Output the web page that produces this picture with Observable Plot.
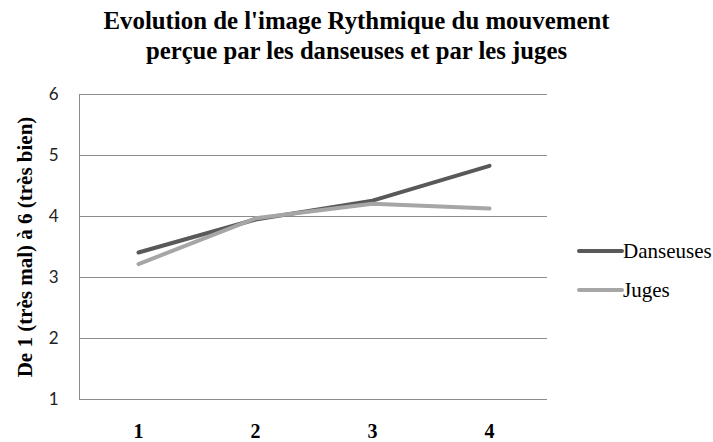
<!DOCTYPE html>
<html><head><meta charset="utf-8">
<script src="https://cdn.jsdelivr.net/npm/d3@7"></script>
<script src="https://cdn.jsdelivr.net/npm/@observablehq/plot@0.6"></script>
<style>
body{margin:0;background:#fff;}
#wrap{width:713px;height:442px;}
</style></head><body><div id="wrap"></div>
<script>
const titleLines = ["Evolution de l'image Rythmique du mouvement", "perçue par les danseuses et par les juges"];
const yLabel = "De 1 (très mal) à 6 (très bien)";
const periods = [1, 2, 3, 4];
const seriesNames = ["Danseuses", "Juges"];
const danseuses = [3.41, 3.95, 4.26, 4.83];
const juges = [3.22, 3.97, 4.21, 4.13];
const yTicks = [1, 2, 3, 4, 5, 6];
const colors = ["#595959", "#a6a6a6"];

const data = [];
periods.forEach((p, i) => data.push({period: p, series: seriesNames[0], value: danseuses[i]}));
periods.forEach((p, i) => data.push({period: p, series: seriesNames[1], value: juges[i]}));

const chart = Plot.plot({
  width: 713, height: 442,
  marginTop: 94, marginBottom: 43, marginLeft: 79, marginRight: 166,
  x: {type: "point", domain: periods, padding: 0.5},
  y: {domain: [1, 6], ticks: yTicks},
  color: {domain: seriesNames, range: colors},
  style: {background: "#fff", fontSize: "17px", fontFamily: "Lato"},
  marks: [
    Plot.gridY(yTicks, {stroke: "#8c8c8c", strokeOpacity: 1}),
    Plot.frame({anchor: "left", stroke: "#8c8c8c"}),
    Plot.axisY(yTicks, {tickSize: 0, tickPadding: 21, tickFormat: d => String(d), fontSize: 17, fontFamily: "Lato", fill: "#222", label: null}),
    Plot.axisX({tickSize: 0, tickPadding: 24, tickFormat: d => String(d), fontSize: 20, fontWeight: "bold", fontFamily: "Liberation Serif", fill: "#000", label: null}),
    Plot.text([yLabel], {text: d => d, frameAnchor: "left", textAnchor: "middle", rotate: -90, dx: -54, fontSize: 21, fontWeight: "bold", fontFamily: "Liberation Serif", fill: "#000"}),
    Plot.line(data, {x: "period", y: "value", z: "series", stroke: "series", strokeWidth: 4, strokeLinecap: "round", strokeLinejoin: "round"})
  ]
});

const s = d3.select(chart);
const titleY = [29, 59];
const titleW = [506, 421];
titleLines.forEach((t, i) => {
  s.append("text")
    .attr("x", 356.5).attr("y", titleY[i])
    .attr("text-anchor", "middle")
    .attr("font-family", "Liberation Serif").attr("font-weight", "bold").attr("font-size", 25)
    .attr("textLength", titleW[i]).attr("lengthAdjust", "spacingAndGlyphs")
    .attr("fill", "#000")
    .text(t);
});
const legY = [251, 290];
seriesNames.forEach((n, i) => {
  s.append("line").attr("x1", 579).attr("x2", 622).attr("y1", legY[i]).attr("y2", legY[i])
    .attr("stroke", colors[i]).attr("stroke-width", 4).attr("stroke-linecap", "round");
  s.append("text").attr("x", 623).attr("y", legY[i] + 7)
    .attr("text-anchor", "start")
    .attr("font-family", "Liberation Serif").attr("font-size", 21).attr("fill", "#000")
    .text(n);
});
document.getElementById("wrap").appendChild(chart);
</script></body></html>
